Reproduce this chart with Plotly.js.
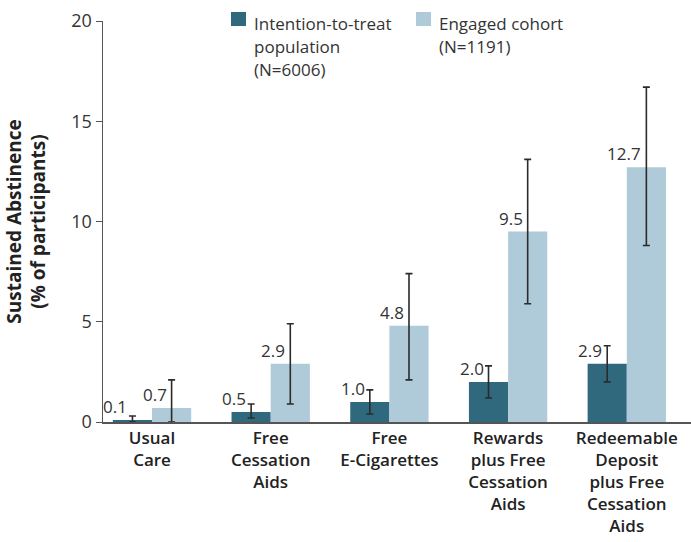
<!DOCTYPE html>
<html>
<head>
<meta charset="utf-8">
<script src="https://cdn.plot.ly/plotly-3.0.1.min.js"></script>
<style>html,body{margin:0;padding:0;background:#fff;}#chart{width:691px;height:542px;}</style>
</head>
<body>
<div id="chart"></div>
<script>
const categories = ["Usual<br>Care", "Free<br>Cessation<br>Aids", "Free<br>E-Cigarettes", "Rewards<br>plus Free<br>Cessation<br>Aids", "Redeemable<br>Deposit<br>plus Free<br>Cessation<br>Aids"];
const ittValues = [0.1, 0.5, 1.0, 2.0, 2.9];
const ittLower = [0.0, 0.2, 0.4, 1.2, 2.0];
const ittUpper = [0.3, 0.9, 1.6, 2.8, 3.8];
const engValues = [0.7, 2.9, 4.8, 9.5, 12.7];
const engLower = [0.0, 0.9, 2.1, 5.9, 8.8];
const engUpper = [2.1, 4.9, 7.4, 13.1, 16.7];
const seriesNames = ["Intention-to-treat<br>population<br>(N=6006)", "Engaged cohort<br>(N=1191)"];
const seriesColors = ["#30687d", "#afcad8"];

const FONT = "Open Sans, DejaVu Sans, sans-serif";
const bargap = 0.34;
const barW = (1 - bargap) / 2;
const W = 691, H = 542, ML = 103, MR = 0, MT = 21, MB = 120;
const PW = W - ML - MR, PH = H - MT - MB;
const px2x = p => (p - ML) / PW;
const py2y = p => (H - MB - p) / PH;

function errs(v, lo, hi) {
  return {type: "data", symmetric: false,
    array: hi.map((h, i) => +(h - v[i]).toFixed(2)),
    arrayminus: lo.map((l, i) => +(v[i] - l).toFixed(2)),
    color: "#2b2b2b", thickness: 1.6, width: 3.5};
}

const traces = [
  {type: "bar", name: seriesNames[0], x: categories, y: ittValues,
   marker: {color: seriesColors[0]}, error_y: errs(ittValues, ittLower, ittUpper), hoverinfo: "y"},
  {type: "bar", name: seriesNames[1], x: categories, y: engValues,
   marker: {color: seriesColors[1]}, error_y: errs(engValues, engLower, engUpper), hoverinfo: "y"}
];

const annotations = [];
[ittValues, engValues].forEach((vals, s) => {
  vals.forEach((v, i) => {
    annotations.push({x: i + (s === 0 ? -barW / 2 : barW / 2), y: v, xref: "x", yref: "y",
      text: v.toFixed(1), showarrow: false, xanchor: "right", yanchor: "bottom",
      xshift: -3, yshift: 0, font: {family: FONT, size: 17, color: "#333"}});
  });
});

// manual legend (square + one annotation per text line)
const legendSquareX = [231, 416];
const shapes = [];
seriesNames.forEach((n, s) => {
  const x0 = legendSquareX[s];
  shapes.push({type: "rect", xref: "paper", yref: "paper",
    x0: px2x(x0), x1: px2x(x0 + 15), y0: py2y(26), y1: py2y(12),
    fillcolor: seriesColors[s], line: {width: 0}});
  n.split("<br>").forEach((line, k) => {
    annotations.push({xref: "paper", yref: "paper", x: px2x(x0 + 21), y: py2y(10 + 23 * k),
      xanchor: "left", yanchor: "top", align: "left", showarrow: false, text: line,
      font: {family: FONT, size: 17, color: "#333"}});
  });
});

const layout = {
  width: W, height: H,
  margin: {l: ML, r: MR, t: MT, b: MB},
  paper_bgcolor: "#fff", plot_bgcolor: "#fff",
  barmode: "group", bargap: bargap, bargroupgap: 0,
  font: {family: FONT, color: "#333"},
  showlegend: false,
  xaxis: {type: "category", range: [-0.413, 4.541], showline: true, linecolor: "#555", linewidth: 1.5,
    ticks: "", showgrid: false, zeroline: false,
    tickfont: {family: FONT, size: 17, color: "#222", weight: 600}},
  yaxis: {range: [0, 20], tickvals: [0, 5, 10, 15, 20], showline: true, linecolor: "#555", linewidth: 1.5,
    ticks: "outside", ticklen: 6, tickcolor: "#555", showgrid: false, zeroline: false,
    tickfont: {family: FONT, size: 18, color: "#333"},
    title: {text: "Sustained Abstinence<br>(% of participants)", standoff: 20,
      font: {family: FONT, size: 19, color: "#222", weight: 700}}},
  shapes: shapes,
  annotations: annotations
};

Plotly.newPlot("chart", traces, layout, {displayModeBar: false, staticPlot: true});
</script>
</body>
</html>
